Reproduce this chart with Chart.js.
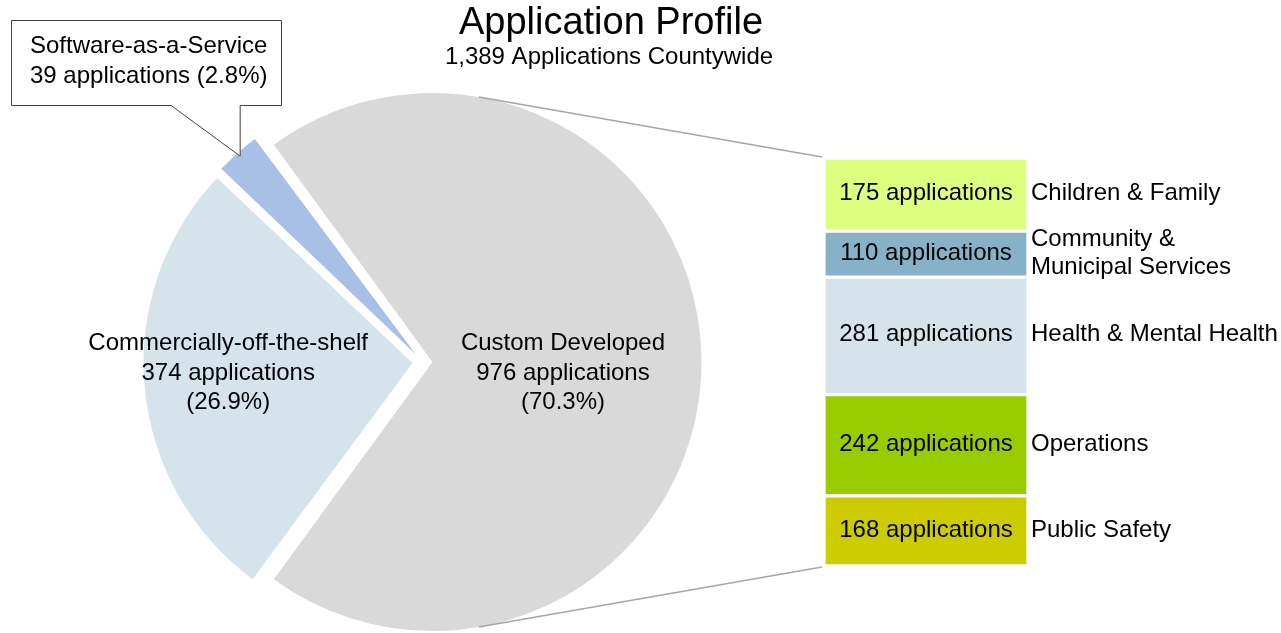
<!DOCTYPE html>
<html>
<head>
<meta charset="utf-8">
<title>Application Profile</title>
<script src="https://cdn.jsdelivr.net/npm/chart.js@4.4.0/dist/chart.umd.min.js"></script>
<style>
  html, body { margin: 0; padding: 0; background: #fff; }
  #wrap { position: relative; width: 1281px; height: 633px; overflow: hidden; }
  #wrap canvas { position: absolute; left: 0; top: 0; }
</style>
</head>
<body>
<div id="wrap">
  <canvas id="graficoPizza" width="1281" height="633"></canvas>
  <canvas id="graficoBarra" width="1281" height="633"></canvas>
</div>
<script>
const tiposApp = ['Custom Developed', 'Commercially-off-the-shelf', 'Software-as-a-Service'];
const qtdTipos = [976, 374, 39];
const coresTipos = ['#d9d9d9', '#d5e3ea', '#a8c0e6'];

const areas = ['Children & Family', 'Community & Municipal Services', 'Health & Mental Health', 'Operations', 'Public Safety'];
const linhasAreas = [['Children & Family'], ['Community &', 'Municipal Services'], ['Health & Mental Health'], ['Operations'], ['Public Safety']];
const qtdAreas = [175, 110, 281, 242, 168];
const coresAreas = ['#ddff80', '#87b1c6', '#d5e3ea', '#99cc00', '#cccc00'];

const FONTE = '"Liberation Sans", Arial, sans-serif';
const RAIO = 269;
const soma = arr => arr.reduce((a, b) => a + b, 0);
const totalApps = soma(qtdTipos);
const pct = v => (v / totalApps * 100).toFixed(1) + '%';

// chart.js desloca o arco em offset/4 e aumenta o raio conforme o angulo da fatia
function extraRaio(arc) {
  const off = (arc.options.offset || 0) / 4;
  return off * (1 - Math.sin(Math.min(Math.PI, arc.circumference)));
}

function centroArco(arc) {
  const meio = (arc.startAngle + arc.endAngle) / 2;
  const off = (arc.options.offset || 0) / 4;
  return { x: arc.x + Math.cos(meio) * off, y: arc.y + Math.sin(meio) * off, meio, r: arc.outerRadius + extraRaio(arc) };
}

// deixa todas as fatias com o mesmo raio visivel
const raioIgual = {
  id: 'raioIgual',
  afterDatasetUpdate(chart) {
    chart.getDatasetMeta(0).data.forEach(arc => {
      arc.outerRadius = RAIO - extraRaio(arc);
    });
  }
};

const rotulosPizza = {
  id: 'rotulosPizza',
  afterDraw(chart) {
    const ctx = chart.ctx;
    const arcos = chart.getDatasetMeta(0).data;
    ctx.save();
    ctx.fillStyle = '#000';
    ctx.textBaseline = 'middle';
    ctx.textAlign = 'center';

    // titulo
    ctx.font = '38px ' + FONTE;
    ctx.fillText('Application Profile', 611, 24);
    ctx.font = '24px ' + FONTE;
    ctx.fillText(totalApps.toLocaleString('en-US') + ' Applications Countywide', 609, 57);

    // rotulos dentro das fatias maiores
    const fatores = [0.485, 0.688];
    [0, 1].forEach(i => {
      const arc = arcos[i];
      const c = centroArco(arc);
      const x = c.x + Math.cos(c.meio) * c.r * fatores[i];
      const y = arc.y + 11;
      ctx.fillText(tiposApp[i], x, y - 29.5);
      ctx.fillText(qtdTipos[i] + ' applications', x, y);
      ctx.fillText('(' + pct(qtdTipos[i]) + ')', x, y + 29.5);
    });

    // caixa do SaaS com ponteiro
    const cs = centroArco(arcos[2]);
    const ponta = {
      x: cs.x + Math.cos(cs.meio) * (cs.r - 4),
      y: cs.y + Math.sin(cs.meio) * (cs.r - 4)
    };
    const box = { l: 11.5, t: 20.5, r: 281.5, b: 105.5 };
    ctx.beginPath();
    ctx.moveTo(box.l, box.t);
    ctx.lineTo(box.r, box.t);
    ctx.lineTo(box.r, box.b);
    ctx.lineTo(ponta.x, box.b);
    ctx.lineTo(ponta.x, ponta.y);
    ctx.lineTo(ponta.x - 69, box.b);
    ctx.lineTo(box.l, box.b);
    ctx.closePath();
    ctx.fillStyle = '#fff';
    ctx.fill();
    ctx.strokeStyle = '#404040';
    ctx.lineWidth = 1;
    ctx.stroke();

    ctx.fillStyle = '#000';
    ctx.textAlign = 'left';
    ctx.fillText(tiposApp[2], 30, 46.5);
    ctx.fillText(qtdTipos[2] + ' applications (' + pct(qtdTipos[2]) + ')', 30, 76);
    ctx.restore();
  }
};

const pizza = new Chart(document.getElementById('graficoPizza'), {
  type: 'pie',
  data: {
    labels: tiposApp,
    datasets: [{
      data: qtdTipos,
      backgroundColor: coresTipos,
      borderWidth: 0,
      offset: 40
    }]
  },
  options: {
    responsive: false,
    animation: false,
    devicePixelRatio: 1,
    radius: RAIO - 10,
    rotation: 90 - qtdTipos[0] / totalApps * 180,
    layout: { padding: { left: 0, right: 436, top: 91, bottom: 0 } },
    plugins: { legend: { display: false }, tooltip: { enabled: false } }
  },
  plugins: [raioIgual, rotulosPizza]
});

const rotulosBarra = {
  id: 'rotulosBarra',
  afterDraw(chart) {
    const ctx = chart.ctx;
    ctx.save();
    ctx.font = '24px ' + FONTE;
    ctx.fillStyle = '#000';
    ctx.textBaseline = 'middle';

    let primeiro, ultimo;
    chart.data.datasets.forEach((ds, i) => {
      const bar = chart.getDatasetMeta(i).data[0];
      const topo = Math.min(bar.y, bar.base);
      const fundo = Math.max(bar.y, bar.base);
      const meio = (topo + fundo) / 2 - 1;
      if (i === 0) primeiro = { x: bar.x - bar.width / 2, y: topo };
      ultimo = { x: bar.x - bar.width / 2, y: fundo };

      ctx.textAlign = 'center';
      ctx.fillText(ds.data[0] + ' applications', bar.x, meio);
      ctx.textAlign = 'left';
      const linhas = linhasAreas[i];
      linhas.forEach((l, k) => {
        ctx.fillText(l, bar.x + bar.width / 2 + 3, meio + (k - (linhas.length - 1) / 2) * 28);
      });
    });

    // linhas de ligacao tangentes a fatia "Custom Developed"
    const c = centroArco(pizza.getDatasetMeta(0).data[0]);
    ctx.strokeStyle = '#a6a6a6';
    ctx.lineWidth = 1.6;
    [[primeiro, -1], [ultimo, 1]].forEach(([p, lado]) => {
      const px = p.x - 2, py = p.y + lado;
      const d = Math.hypot(px - c.x, py - c.y);
      const ang = Math.atan2(py - c.y, px - c.x) + lado * Math.acos(c.r / d);
      ctx.beginPath();
      ctx.moveTo(c.x + Math.cos(ang) * c.r, c.y + Math.sin(ang) * c.r);
      ctx.lineTo(px, py);
      ctx.stroke();
    });
    ctx.restore();
  }
};

const barra = new Chart(document.getElementById('graficoBarra'), {
  type: 'bar',
  data: {
    labels: [tiposApp[0]],
    datasets: areas.map((a, i) => ({
      label: a,
      data: [qtdAreas[i]],
      backgroundColor: coresAreas[i],
      borderColor: '#fff',
      borderWidth: 2,
      borderSkipped: false,
      categoryPercentage: 1,
      barPercentage: 1
    }))
  },
  options: {
    responsive: false,
    animation: false,
    devicePixelRatio: 1,
    layout: { padding: { left: 824, right: 253, top: 158, bottom: 67 } },
    scales: {
      x: { stacked: true, display: false },
      y: { stacked: true, display: false, reverse: true, min: 0, max: soma(qtdAreas) }
    },
    plugins: { legend: { display: false }, tooltip: { enabled: false } }
  },
  plugins: [rotulosBarra]
});
</script>
</body>
</html>
